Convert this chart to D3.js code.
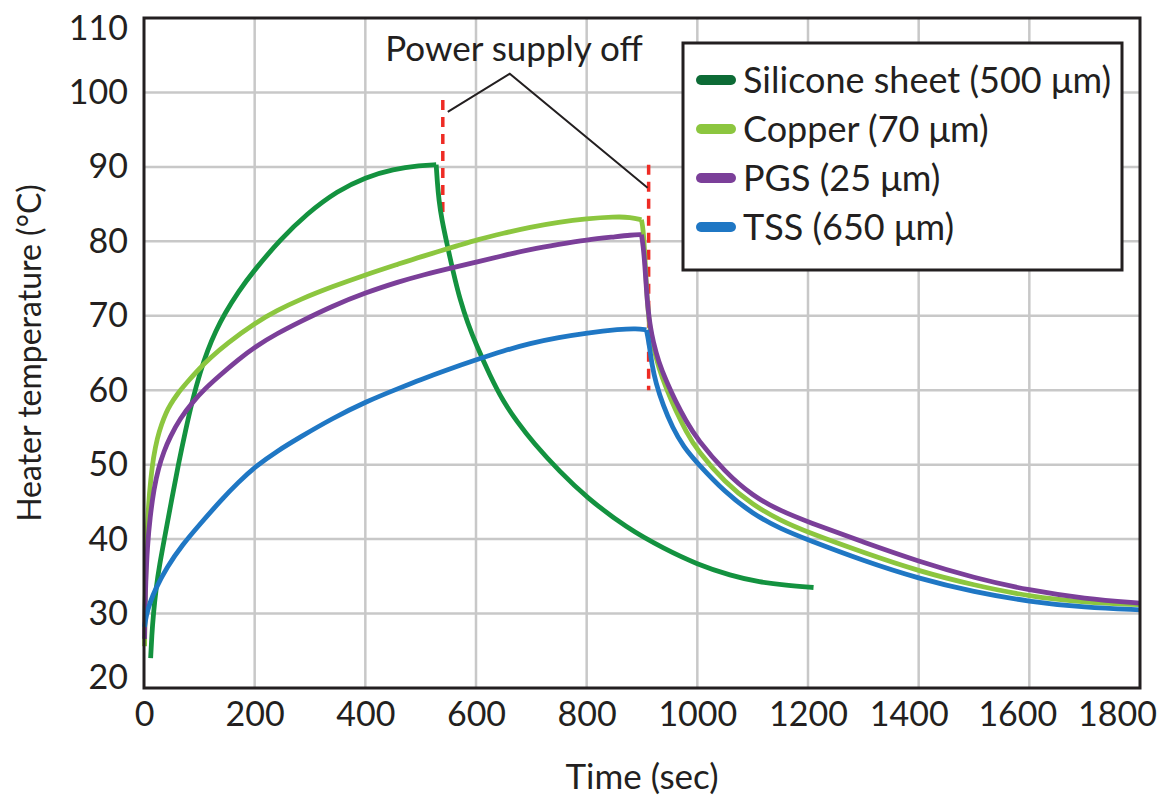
<!DOCTYPE html>
<html>
<head>
<meta charset="utf-8">
<script src="https://cdn.jsdelivr.net/npm/d3@7"></script>
<style>
  body { margin: 0; background: #fff; }
  svg text { font-family: Lato, "Open Sans", sans-serif; fill: #231f20; }
</style>
</head>
<body>
<script>
// readings: [time (s), temperature (°C)]
// each material: heating part, then cooling part after power off
var siliconeHeat = [[12,24],[14,27],[17,30],[22,33.5],[28,36.5],[38,40.5],[50,45.3],[62,50],[75,54.6],[88,58.8],
  [101,62.3],[115,65.4],[130,68],[146,70.3],[170,73.2],[200,76.2],[246,80.2],[294,83.7],[350,86.8],[400,88.6],
  [450,89.7],[500,90.2],[528,90.3]];
var siliconeCool = [[528,90.3],[530,88],[533,85.5],[538,83],[548,79.5],[559,75.8],[571,72.2],[585,69],[601,66],
  [625,62],[649,58.5],[675,55.7],[703,53],[752,49],[800,45.6],[872,41.5],[940,38.7],[1000,36.6],[1060,35.1],
  [1113,34.2],[1160,33.8],[1210,33.5]];

var copperHeat = [[1,25.6],[2,31],[3,35],[5,40],[8,44.5],[12,48],[17,51],[24,53.6],[32,55.5],[40,57],[47,58],
  [60,59.5],[77,61],[100,62.9],[119,64.3],[150,66.3],[202,69.1],[240,70.7],[282,72.2],[340,73.9],[400,75.5],
  [462,77],[499,77.9],[571,79.5],[601,80.2],[650,81.1],[697,81.9],[750,82.6],[800,83.05],[850,83.3],[880,83.25],
  [899,82.9]];
var copperCool = [[899,82.9],[902,81.8],[905,78.3],[908,74],[911,70.5],[915,68],[920,66],[930,63],[944,60.2],
  [960,57.4],[980,54.4],[1000,51.9],[1050,47.6],[1100,44.6],[1150,42.5],[1200,40.9],[1300,38.2],[1400,35.7],
  [1500,33.8],[1600,32.3],[1700,31.5],[1800,31.2]];

var pgsHeat = [[1,26.6],[2,31],[3,34],[6,39],[11,43],[18,46.8],[26,49.5],[36,51.8],[47,53.7],[65,56.2],[89,58.5],
  [110,60.2],[137,62],[170,64.1],[202,65.9],[240,67.6],[282,69.2],[340,71.3],[400,73.1],[462,74.6],[499,75.4],
  [571,76.7],[601,77.2],[650,78.1],[697,78.9],[750,79.6],[800,80.2],[850,80.6],[880,80.85],[899,80.9]];
var pgsCool = [[899,80.9],[902,79.5],[905,77],[908,73.5],[911,70.8],[915,68.5],[920,66.6],[930,63.8],[944,61.2],
  [960,58.6],[980,55.8],[1000,53.4],[1050,49],[1100,45.8],[1150,43.8],[1200,42.3],[1300,39.6],[1400,37],
  [1500,34.8],[1600,33.1],[1700,32],[1800,31.4]];

var tssHeat = [[1,28.2],[4,29.8],[11,31.5],[20,33.2],[41,36.2],[70,39.3],[101,42],[140,45.3],[170,47.6],[202,49.8],
  [240,51.8],[282,53.7],[340,56.2],[402,58.5],[462,60.3],[499,61.4],[550,62.8],[601,64.1],[650,65.3],[697,66.3],
  [750,67.1],[800,67.7],[860,68.2],[890,68.3],[908,68.1]];
var tssCool = [[908,68.1],[911,67],[914,65.6],[918,63.4],[925,61],[938,58],[955,55],[975,52.4],[1000,50.2],
  [1050,46.3],[1100,43.4],[1150,41.4],[1200,39.9],[1300,37.1],[1400,34.7],[1500,32.9],[1600,31.6],[1700,30.8],
  [1800,30.5]];

var seriesNames = ["Silicone sheet (500 μm)", "Copper (70 μm)", "PGS (25 μm)", "TSS (650 μm)"];
var seriesColors = ["#13923f", "#8cc63f", "#7b3f99", "#1f77c4"];
var legendColors = ["#0d6b36", "#8cc63f", "#7b3f99", "#1f77c4"];

var xTicks = [0, 200, 400, 600, 800, 1000, 1200, 1400, 1600, 1800];
var yTicks = [20, 30, 40, 50, 60, 70, 80, 90, 100, 110];
var powerOff = [540, 912];                       // red dashed markers
var powerOffSpan = [[83.5, 99], [60, 90.3]];
var calloutPath = [[549, 97.4], [661, 102.5], [910, 87.2]];

var width = 1163, height = 799;
var margin = {left: 144, right: 23, top: 18, bottom: 111};

var svg = d3.select("body").append("svg")
  .attr("width", width).attr("height", height);

var x = d3.scaleLinear().domain([0, 1800]).range([margin.left, width - margin.right]);
var y = d3.scaleLinear().domain([20, 110]).range([height - margin.bottom, margin.top]);

// grid
svg.append("g").selectAll("line").data(xTicks.slice(1, -1)).enter().append("line")
  .attr("x1", function(d) { return x(d); }).attr("x2", function(d) { return x(d); })
  .attr("y1", y(110)).attr("y2", y(20))
  .attr("stroke", "#c8c8c8").attr("stroke-width", 2.5);
svg.append("g").selectAll("line").data(yTicks.slice(1, -1)).enter().append("line")
  .attr("y1", function(d) { return y(d); }).attr("y2", function(d) { return y(d); })
  .attr("x1", x(0)).attr("x2", x(1800))
  .attr("stroke", "#c8c8c8").attr("stroke-width", 2.5);

// axes, labels only
var xAxis = svg.append("g").attr("transform", "translate(0," + y(20) + ")")
  .call(d3.axisBottom(x).tickValues(xTicks).tickFormat(d3.format("d")).tickSize(0).tickPadding(14));
var yAxis = svg.append("g").attr("transform", "translate(" + x(0) + ",0)")
  .call(d3.axisLeft(y).tickValues(yTicks).tickSize(0).tickPadding(16));
[xAxis, yAxis].forEach(function(a) {
  a.select(".domain").remove();
  a.selectAll("text").attr("font-size", 34).attr("font-family", "Lato").attr("fill", "#231f20");
});
yAxis.selectAll("text").filter(function(d) { return d === 110; }).attr("dy", "0.62em");
yAxis.selectAll("text").filter(function(d) { return d === 20; }).attr("dy", "0.02em");
xAxis.selectAll("text").attr("dx", function(d) {
  return d === 1800 ? -23 : (d === 1600 ? -12 : (d === 1400 ? -10 : 0));
});

// red markers where power was cut
svg.append("g").selectAll("line").data(powerOff).enter().append("line")
  .attr("x1", function(d) { return x(d); }).attr("x2", function(d) { return x(d); })
  .attr("y1", function(d, i) { return y(powerOffSpan[i][1]); })
  .attr("y2", function(d, i) { return y(powerOffSpan[i][0]); })
  .attr("stroke", "#ee2b24").attr("stroke-width", 3.5).attr("stroke-dasharray", "10,7");

// curves
var line = d3.line()
  .x(function(d) { return x(d[0]); })
  .y(function(d) { return y(d[1]); })
  .curve(d3.curveBasis);

var segments = [
  [siliconeHeat, 0], [siliconeCool, 0],
  [copperHeat, 1], [copperCool, 1],
  [pgsHeat, 2], [pgsCool, 2],
  [tssHeat, 3], [tssCool, 3]
];
svg.append("g").selectAll("path").data(segments).enter().append("path")
  .attr("d", function(d) { return line(d[0]); })
  .attr("fill", "none")
  .attr("stroke", function(d) { return seriesColors[d[1]]; })
  .attr("stroke-width", 4.8)
  .attr("stroke-linejoin", "round");

// frame
svg.append("rect")
  .attr("x", x(0)).attr("y", y(110))
  .attr("width", x(1800) - x(0)).attr("height", y(20) - y(110))
  .attr("fill", "none").attr("stroke", "#231f20").attr("stroke-width", 3);

// callout
svg.append("path")
  .attr("d", d3.line().x(function(d) { return x(d[0]); }).y(function(d) { return y(d[1]); })(calloutPath))
  .attr("fill", "none").attr("stroke", "#231f20").attr("stroke-width", 2);
svg.append("text")
  .attr("x", 514).attr("y", 61)
  .attr("text-anchor", "middle").attr("font-size", 35)
  .text("Power supply off");

// legend
var lg = svg.append("g").attr("transform", "translate(683,43)");
lg.append("rect").attr("width", 439).attr("height", 227)
  .attr("fill", "#fff").attr("stroke", "#231f20").attr("stroke-width", 3);
var rows = lg.selectAll("g.row").data(seriesNames).enter().append("g")
  .attr("class", "row")
  .attr("transform", function(d, i) { return "translate(0," + (37 + i * 49) + ")"; });
rows.append("line").attr("x1", 18).attr("x2", 48)
  .attr("stroke", function(d, i) { return legendColors[i]; })
  .attr("stroke-width", 10).attr("stroke-linecap", "round");
rows.append("text").attr("x", 60).attr("dy", "0.36em")
  .attr("font-size", 36).text(function(d) { return d; });

// axis titles
svg.append("text")
  .attr("x", x(900)).attr("y", 789)
  .attr("text-anchor", "middle").attr("font-size", 35)
  .text("Time (sec)");
svg.append("text")
  .attr("transform", "translate(41," + y(65) + ") rotate(-90)")
  .attr("text-anchor", "middle").attr("font-size", 32)
  .text("Heater temperature (°C)");
</script>
</body>
</html>
